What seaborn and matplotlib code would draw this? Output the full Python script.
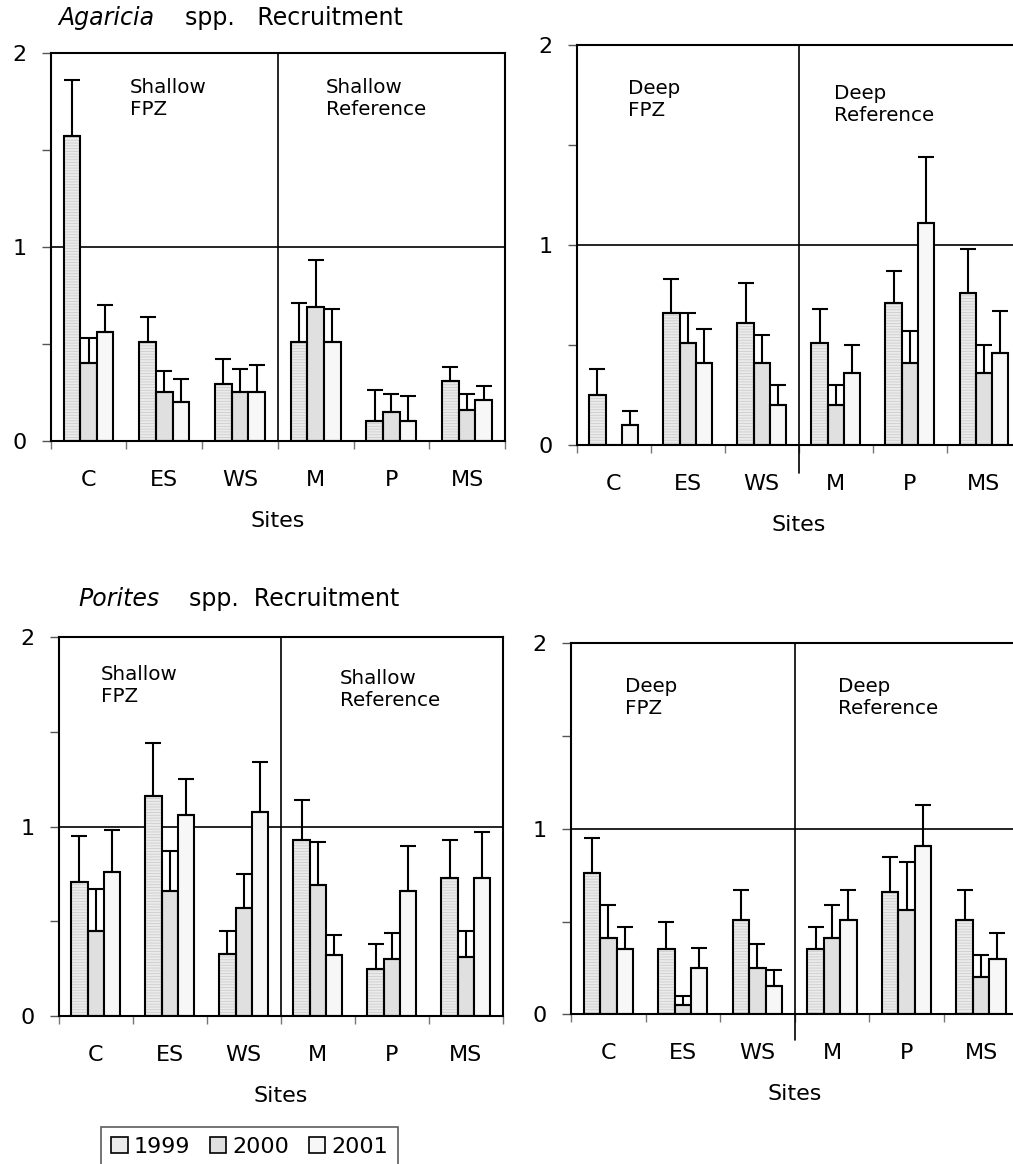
import pandas as pd
import matplotlib
matplotlib.use('Agg')
import matplotlib.pyplot as plt
from matplotlib.patches import Patch, Rectangle
import seaborn as sns

sites = ['C', 'ES', 'WS', 'M', 'P', 'MS']
years = ['1999', '2000', '2001']

# mean recruitment per site, one list per year; *_top = top of the error bar
agar_shallow = {'1999': [1.57, 0.51, 0.29, 0.51, 0.10, 0.31],
                '2000': [0.40, 0.25, 0.25, 0.69, 0.15, 0.16],
                '2001': [0.56, 0.20, 0.25, 0.51, 0.10, 0.21]}
agar_shallow_top = {'1999': [1.86, 0.64, 0.42, 0.71, 0.26, 0.38],
                    '2000': [0.53, 0.36, 0.37, 0.93, 0.24, 0.24],
                    '2001': [0.70, 0.32, 0.39, 0.68, 0.23, 0.28]}

agar_deep = {'1999': [0.25, 0.66, 0.61, 0.51, 0.71, 0.76],
             '2000': [0.00, 0.51, 0.41, 0.20, 0.41, 0.36],
             '2001': [0.10, 0.41, 0.20, 0.36, 1.11, 0.46]}
agar_deep_top = {'1999': [0.38, 0.83, 0.81, 0.68, 0.87, 0.98],
                 '2000': [0.00, 0.66, 0.55, 0.30, 0.57, 0.50],
                 '2001': [0.17, 0.58, 0.30, 0.50, 1.44, 0.67]}

por_shallow = {'1999': [0.71, 1.16, 0.33, 0.93, 0.25, 0.73],
               '2000': [0.45, 0.66, 0.57, 0.69, 0.30, 0.31],
               '2001': [0.76, 1.06, 1.08, 0.32, 0.66, 0.73]}
por_shallow_top = {'1999': [0.95, 1.44, 0.45, 1.14, 0.38, 0.93],
                   '2000': [0.67, 0.87, 0.75, 0.92, 0.44, 0.45],
                   '2001': [0.98, 1.25, 1.34, 0.43, 0.90, 0.97]}

por_deep = {'1999': [0.76, 0.35, 0.51, 0.35, 0.66, 0.51],
            '2000': [0.41, 0.05, 0.25, 0.41, 0.56, 0.20],
            '2001': [0.35, 0.25, 0.15, 0.51, 0.91, 0.30]}
por_deep_top = {'1999': [0.95, 0.50, 0.67, 0.47, 0.85, 0.67],
                '2000': [0.59, 0.10, 0.38, 0.59, 0.82, 0.32],
                '2001': [0.47, 0.36, 0.24, 0.67, 1.13, 0.44]}

colors = {'1999': '#ebebeb', '2000': '#e0e0e0', '2001': '#f7f7f7'}
hatch_col = '#cdcdcd'

sns.set_style('white', {'text.color': 'black', 'axes.labelcolor': 'black',
                        'xtick.color': 'black', 'ytick.color': 'black'})
plt.rcParams['font.family'] = ['DejaVu Sans']
plt.rcParams['hatch.linewidth'] = 0.6

fig = plt.figure(figsize=(10.13, 11.64), dpi=100)


def panel(rect, means, tops, left_lbl, right_lbl, lbl_pos, long_divider=False):
    ax = fig.add_axes(rect)
    df = pd.DataFrame([(s, y, means[y][i]) for y in years for i, s in enumerate(sites)],
                      columns=['site', 'year', 'value'])
    sns.barplot(data=df, x='site', y='value', hue='year', order=sites, hue_order=years,
                palette=colors, width=0.66, edgecolor='black', linewidth=1.5,
                errorbar=None, legend=False, ax=ax)
    bars = list(ax.patches)
    # upward-only error bars at each bar's centre
    for k, y in enumerate(years):
        for i in range(len(sites)):
            p = bars[k * len(sites) + i]
            h = p.get_height()
            if k == 0:
                # light striped fill for 1999, black outline drawn on top
                p.set_edgecolor(hatch_col)
                p.set_hatch('------')
                p.set_linewidth(0)
                ax.add_patch(Rectangle((p.get_x(), 0), p.get_width(), h, fill=False,
                                       edgecolor='black', linewidth=1.5, zorder=p.get_zorder() + 0.1))
            if h <= 0:
                continue
            xc = p.get_x() + p.get_width() / 2
            ax.errorbar([xc], [h], yerr=[[0], [tops[y][i] - h]], fmt='none',
                        ecolor='black', elinewidth=1.5, capsize=5.5, capthick=1.5, zorder=3)
    ax.set_xlim(-0.5, 5.5)
    ax.set_ylim(0, 2)
    ax.axhline(1, color='black', lw=1.2, zorder=0.5)
    if long_divider:
        ax.axvline(2.5, ymin=-0.07, ymax=1, color='black', lw=1.2, clip_on=False)
    else:
        ax.axvline(2.5, color='black', lw=1.2)
    for sp in ax.spines.values():
        sp.set_visible(True)
        sp.set_color('black')
        sp.set_linewidth(1.5)
    ax.set_yticks([0, 1, 2])
    ax.set_yticks([0.5, 1.5], minor=True)
    ax.set_xticks(range(6))
    ax.set_xticks([-0.5, 0.5, 1.5, 2.5, 3.5, 4.5, 5.5], minor=True)
    ax.tick_params(axis='y', which='both', direction='out', left=True, length=6.5,
                   width=1, color='#555555', labelcolor='black', labelsize=16, pad=11)
    ax.tick_params(axis='x', which='major', length=0, labelcolor='black', labelsize=16, pad=21)
    ax.tick_params(axis='x', which='minor', direction='out', bottom=True, length=6,
                   width=1, color='#777777')
    ax.set_xlabel('Sites', fontsize=16, labelpad=15, color='black')
    ax.set_ylabel('')
    ax.text(lbl_pos[0][0], lbl_pos[0][1], left_lbl, transform=ax.transAxes,
            ha='left', va='top', fontsize=14.3, color='black')
    ax.text(lbl_pos[1][0], lbl_pos[1][1], right_lbl, transform=ax.transAxes,
            ha='left', va='top', fontsize=14.3, color='black')
    return ax


panel([0.050, 0.6214, 0.4485, 0.3333], agar_shallow, agar_shallow_top,
      'Shallow\nFPZ', 'Shallow\nReference', [(0.175, 0.935), (0.606, 0.935)])
panel([0.5693, 0.6180, 0.4386, 0.3431], agar_deep, agar_deep_top,
      'Deep\nFPZ', 'Deep\nReference', [(0.116, 0.915), (0.578, 0.902)], long_divider=True)
panel([0.0579, 0.1271, 0.4386, 0.3254], por_shallow, por_shallow_top,
      'Shallow\nFPZ', 'Shallow\nReference', [(0.095, 0.928), (0.633, 0.915)])
panel([0.5637, 0.1286, 0.4416, 0.3187], por_deep, por_deep_top,
      'Deep\nFPZ', 'Deep\nReference', [(0.121, 0.908), (0.596, 0.908)], long_divider=True)

# titles with italic genus names
fig.text(58 / 1013, 1 - 25 / 1164, 'Agaricia', fontsize=17, style='italic', va='baseline', color='black')
fig.text(185 / 1013, 1 - 25 / 1164, 'spp.   Recruitment', fontsize=17, va='baseline', color='black')
fig.text(78 / 1013, 1 - 606 / 1164, 'Porites', fontsize=17, style='italic', va='baseline', color='black')
fig.text(189 / 1013, 1 - 606 / 1164, 'spp.  Recruitment', fontsize=17, va='baseline', color='black')

handles = [Patch(facecolor=colors[y], edgecolor='black', linewidth=1.2) for y in years]
leg = fig.legend(handles, years, loc='upper left', bbox_to_anchor=(101 / 1013, 1 - 1127 / 1164),
                 ncol=3, fontsize=16, frameon=True, fancybox=False, handlelength=0.75,
                 handleheight=0.75, handletextpad=0.25, columnspacing=0.9,
                 borderpad=0.45, borderaxespad=0)
leg.get_frame().set_edgecolor('#333333')
leg.get_frame().set_linewidth(1.2)
for t in leg.get_texts():
    t.set_color('black')

fig.savefig('out.png', dpi=100)
